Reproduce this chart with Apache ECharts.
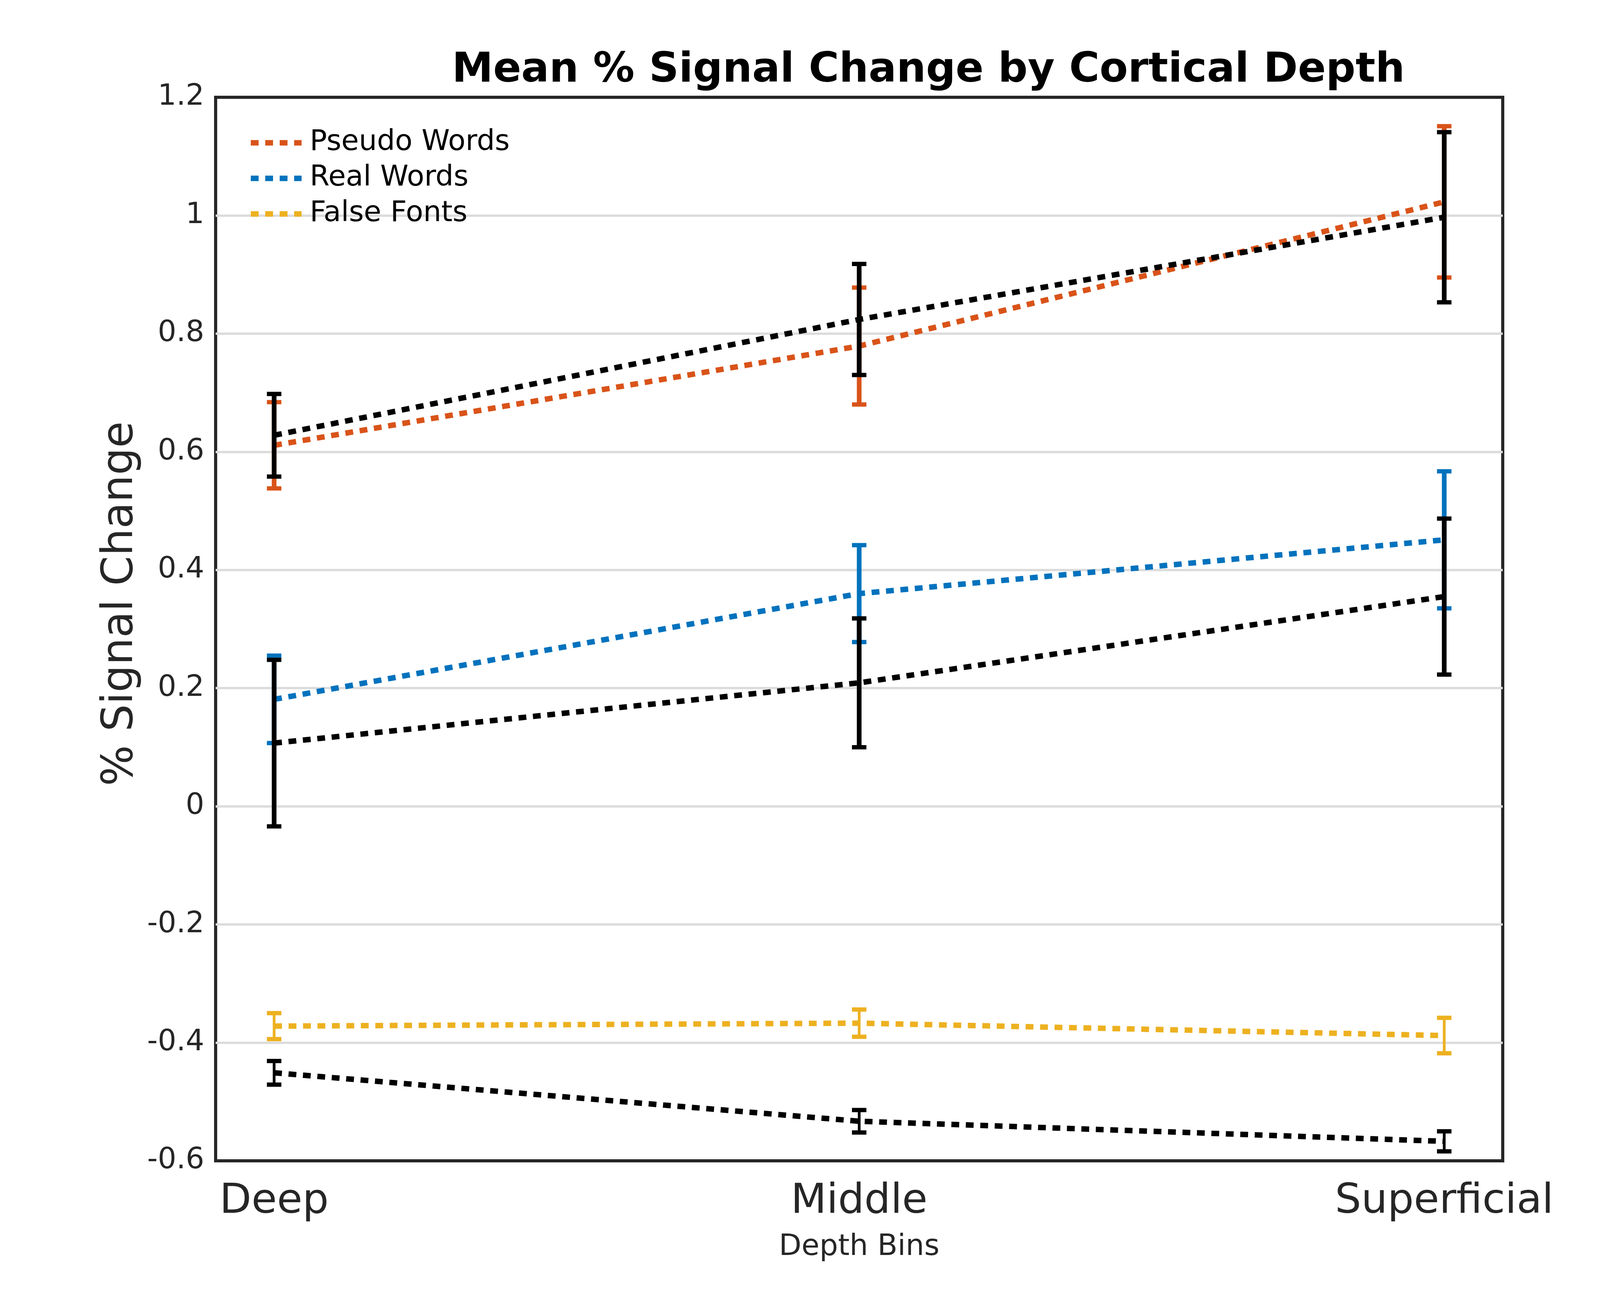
<!DOCTYPE html>
<html>
<head>
<meta charset="utf-8">
<script src="https://cdn.jsdelivr.net/npm/echarts@6/dist/echarts.min.js"></script>
<style>
  html, body { margin: 0; padding: 0; background: #fff; }
  #chart { width: 4252px; height: 3340px; }
</style>
</head>
<body>
<div id="chart"></div>
<script>
// ---- data ----
const depthBins = ['Deep', 'Middle', 'Superficial'];
const binPositions = [1, 2, 3];

const pseudoMean = [0.611, 0.779, 1.023];
const pseudoErr  = [0.073, 0.099, 0.128];

const realMean = [0.181, 0.360, 0.451];
const realErr  = [0.074, 0.082, 0.116];

const falseMean = [-0.372, -0.367, -0.388];
const falseErr  = [0.022, 0.023, 0.030];

const blackPseudoMean = [0.628, 0.824, 0.997];
const blackPseudoErr  = [0.070, 0.094, 0.144];

const blackRealMean = [0.107, 0.209, 0.355];
const blackRealErr  = [0.141, 0.109, 0.132];

const blackFalseMean = [-0.451, -0.533, -0.567];
const blackFalseErr  = [0.020, 0.019, 0.017];

const yTicks = { min: -0.6, max: 1.2, step: 0.2 };

// ---- styling ----
const FONT = 'DejaVu Sans';
const TXT = '#262626';
const C_ORANGE = '#D95319';
const C_BLUE = '#0072BD';
const C_YELLOW = '#EDB120';
const C_BLACK = '#000000';
const DASH = [20, 17];
const LW = 14;

function pts(mean, err) {
  return binPositions.map((x, i) => [x, mean[i], err[i]]);
}

function lineSeries(name, color, mean, err, z) {
  return {
    type: 'line', name: name, data: pts(mean, err),
    encode: { x: 0, y: 1 },
    symbol: 'none', showSymbol: false, z: z,
    lineStyle: { color: color, width: LW, type: DASH, cap: 'butt' },
    itemStyle: { color: color },
    emphasis: { disabled: true }
  };
}

function errSeries(name, color, mean, err, z, stemW) {
  return {
    type: 'custom', name: name, data: pts(mean, err),
    encode: { x: 0, y: 1 }, z: z,
    renderItem: function (params, api) {
      const x = api.value(0), y = api.value(1), e = api.value(2);
      const top = api.coord([x, y + e]);
      const bot = api.coord([x, y - e]);
      const hw = 18.5;
      return {
        type: 'group',
        children: [
          { type: 'line', shape: { x1: top[0], y1: top[1], x2: bot[0], y2: bot[1] },
            style: { stroke: color, lineWidth: stemW } },
          { type: 'line', shape: { x1: top[0] - hw, y1: top[1], x2: top[0] + hw, y2: top[1] },
            style: { stroke: color, lineWidth: 11 } },
          { type: 'line', shape: { x1: bot[0] - hw, y1: bot[1], x2: bot[0] + hw, y2: bot[1] },
            style: { stroke: color, lineWidth: 11 } }
        ]
      };
    }
  };
}

const chart = echarts.init(document.getElementById('chart'), null, { renderer: 'canvas' });

chart.setOption({
  animation: false,
  backgroundColor: '#ffffff',
  textStyle: { fontFamily: FONT },
  title: {
    text: 'Mean % Signal Change by Cortical Depth',
    left: 1152, top: 123,
    textStyle: { fontFamily: FONT, fontSize: 106, fontWeight: 'bold', color: '#000' }
  },
  legend: {
    orient: 'vertical',
    left: 630, top: 324,
    data: ['Pseudo Words', 'Real Words', 'False Fonts'],
    itemWidth: 130, itemHeight: 18, itemGap: 18,
    selectedMode: false,
    itemStyle: { opacity: 0 },
    lineStyle: { width: LW, type: DASH, cap: 'butt' },
    textStyle: { fontFamily: FONT, fontSize: 73, color: '#000', lineHeight: 73, padding: [0, 0, 0, 16] }
  },
  grid: {
    left: 552, top: 249, right: 405, bottom: 369,
    show: true, borderColor: '#262626', borderWidth: 8, backgroundColor: 'transparent'
  },
  xAxis: {
    type: 'value', min: 0.9, max: 3.1, interval: 0.1,
    name: 'Depth Bins', nameLocation: 'middle', nameGap: 184,
    nameTextStyle: { fontFamily: FONT, fontSize: 75, color: TXT },
    axisLine: { show: false }, axisTick: { show: false },
    splitLine: { show: false },
    axisLabel: {
      fontFamily: FONT, fontSize: 106, color: TXT, margin: 52,
      formatter: function (v) {
        const r = Math.round(v);
        if (Math.abs(v - r) < 1e-6) {
          const idx = binPositions.indexOf(r);
          return idx >= 0 ? depthBins[idx] : '';
        }
        return '';
      }
    }
  },
  yAxis: {
    type: 'value', min: yTicks.min, max: yTicks.max, interval: yTicks.step,
    name: '% Signal Change', nameLocation: 'middle', nameGap: 188, nameRotate: 90,
    nameTextStyle: { fontFamily: FONT, fontSize: 110, color: TXT, padding: [0, 0, 0, 130] },
    axisLine: { show: false }, axisTick: { show: false },
    splitLine: { show: true, showMinLine: false, showMaxLine: false,
      lineStyle: { color: '#dcdcdc', width: 6 } },
    axisLabel: { fontFamily: FONT, fontSize: 75, color: TXT, margin: 29 }
  },
  series: [
    lineSeries('Pseudo Words', C_ORANGE, pseudoMean, pseudoErr, 2),
    lineSeries('Real Words', C_BLUE, realMean, realErr, 2),
    lineSeries('False Fonts', C_YELLOW, falseMean, falseErr, 2),
    errSeries('Pseudo Words error', C_ORANGE, pseudoMean, pseudoErr, 3, 12),
    errSeries('Real Words error', C_BLUE, realMean, realErr, 3, 12),
    errSeries('False Fonts error', C_YELLOW, falseMean, falseErr, 3, 7),
    lineSeries('Comparison A', C_BLACK, blackPseudoMean, blackPseudoErr, 4),
    lineSeries('Comparison B', C_BLACK, blackRealMean, blackRealErr, 4),
    lineSeries('Comparison C', C_BLACK, blackFalseMean, blackFalseErr, 4),
    errSeries('Comparison A error', C_BLACK, blackPseudoMean, blackPseudoErr, 5, 12),
    errSeries('Comparison B error', C_BLACK, blackRealMean, blackRealErr, 5, 12),
    errSeries('Comparison C error', C_BLACK, blackFalseMean, blackFalseErr, 5, 7)
  ]
});
</script>
</body>
</html>
